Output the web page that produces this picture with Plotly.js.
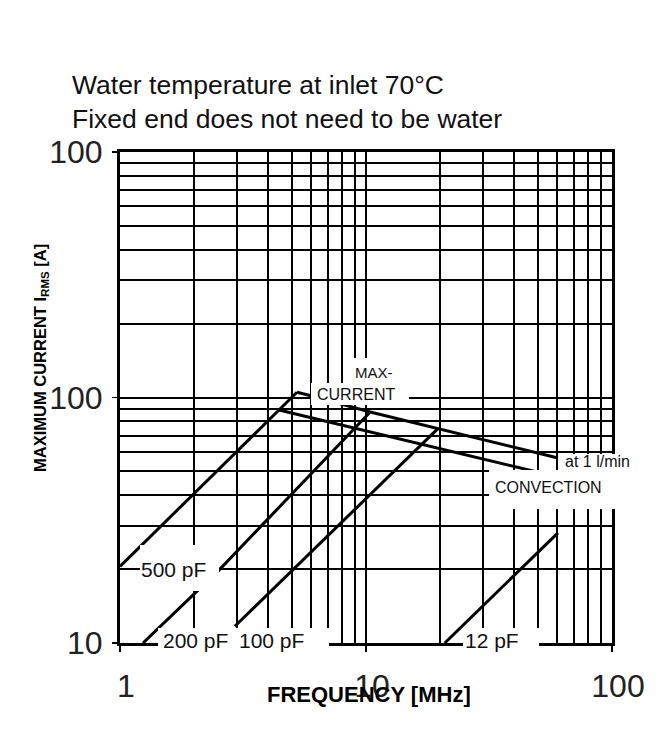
<!DOCTYPE html>
<html>
<head>
<meta charset="utf-8">
<script src="https://cdn.plot.ly/plotly-3.0.1.min.js"></script>
<style>
  html, body { margin: 0; padding: 0; background: #ffffff; }
  #chart { width: 661px; height: 729px; }
</style>
</head>
<body>
<div id="chart"></div>
<script>
// ---- Data (frequency in MHz, current in A) ----
const freq500 = [1.0, 5.24];
const curr500 = [20.5, 105];

const freq200 = [1.24, 2.55, 10.4];
const curr200 = [10.0, 20.0, 87.3];

const freq100 = [2.93, 19.6];
const curr100 = [11.7, 74.7];

const freq12 = [20.9, 60.3];
const curr12 = [10.0, 28.1];

// maximum current, water flow 1 l/min
const freqMax = [5.24, 6.03, 10.4, 60.3];
const currMax = [105, 101.4, 87.3, 56.7];

// maximum current, convection
const freqConv = [4.43, 49.6];
const currConv = [88.9, 49.7];

// axis ticks
const xTickVals = [1, 10, 100];
const xTickText = ['1', '10', '100'];
const yTickVals = [10, 100, 1000];
const yTickText = ['10', '100', '100'];
const xMinorVals = [2, 3, 4, 5, 6, 7, 8, 9, 20, 30, 40, 50, 60, 70, 80, 90];
const yMinorVals = [20, 30, 40, 50, 60, 70, 80, 90, 200, 300, 400, 500, 600, 700, 800, 900];

// ---- Styling / layout ----
const W = 661, H = 729;
const L = 120, R = 49, T = 152, B = 86;
const plotW = W - L - R, plotH = H - T - B;
const dX = px => (px - L) / plotW;          // pixel -> x domain fraction
const dY = py => (H - B - py) / plotH;      // pixel -> y domain fraction

const lineStyle = {color: '#000000', width: 3};
function curve(name, xs, ys) {
  return {type: 'scatter', mode: 'lines', name: name, x: xs, y: ys,
          line: lineStyle, hoverinfo: 'x+y+name', showlegend: false};
}
const traces = [
  curve('500 pF', freq500, curr500),
  curve('200 pF', freq200, curr200),
  curve('100 pF', freq100, curr100),
  curve('12 pF', freq12, curr12),
  curve('Max. current at 1 l/min', freqMax, currMax),
  curve('Max. current, convection', freqConv, currConv)
];

// white label backgrounds that interrupt the grid (pixel rectangles)
const blanks = [
  [348, 358, 398, 384],   // MAX-
  [311, 383, 409, 405],   // CURRENT
  [140, 545, 219, 591],   // 500 pF
  [158, 628, 329, 664],   // 200 pF 100 pF
  [463, 628, 539, 664],   // 12 pF
  [561, 454, 622, 470],   // at 1 l/min
  [489, 470, 622, 509]    // CONVECTION
];
const shapes = blanks.map(b => ({
  type: 'rect', xref: 'x domain', yref: 'y domain', layer: 'above',
  x0: dX(b[0]), x1: dX(b[2]), y0: dY(b[3]), y1: dY(b[1]),
  fillcolor: '#ffffff', line: {width: 0}
}));

const lbl = (text, xv, yv, size) => ({
  text: text, xref: 'x', yref: 'y', x: Math.log10(xv), y: Math.log10(yv),
  xanchor: 'left', yanchor: 'middle', showarrow: false,
  font: {family: 'Liberation Sans, Arial, sans-serif', size: size, color: '#111111'}
});

const annotations = [
  lbl('500 pF', 1.195, 20.0, 21),
  lbl('200 pF', 1.468, 10.25, 21),
  lbl('100 pF', 2.99, 10.25, 21),
  lbl('12 pF', 24.8, 10.25, 21),
  lbl('MAX-', 8.85, 127, 15),
  lbl('CURRENT', 6.2, 102.4, 16),
  lbl('at 1 l/min', 63.2, 55.1, 16),
  lbl('CONVECTION', 32.8, 42.8, 16),
  {
    text: 'MAXIMUM CURRENT I<sub>RMS</sub> [A]', xref: 'paper', yref: 'paper',
    x: dX(41), y: dY(358), xanchor: 'center', yanchor: 'middle', textangle: -90,
    showarrow: false,
    font: {family: 'Liberation Sans, Arial, sans-serif', size: 16.5, color: '#000000', weight: 'bold'}
  },
  {
    text: 'FREQUENCY [MHz]', xref: 'paper', yref: 'paper',
    x: dX(369), y: dY(694), xanchor: 'center', yanchor: 'middle', showarrow: false,
    font: {family: 'Liberation Sans, Arial, sans-serif', size: 22, color: '#000000', weight: 'bold'}
  }
];

const tickFont = {family: 'Liberation Sans, Arial, sans-serif', size: 32, color: '#222222'};

const layout = {
  width: W, height: H,
  margin: {l: L, r: R, t: T, b: B, pad: 0},
  paper_bgcolor: '#ffffff', plot_bgcolor: '#ffffff',
  showlegend: false,
  title: {
    text: 'Water temperature at inlet 70°C<br>Fixed end does not need to be water',
    xref: 'container', yref: 'container',
    x: 72 / W, xanchor: 'left',
    y: 1 - 94 / H, yanchor: 'top',
    font: {family: 'Liberation Sans, Arial, sans-serif', size: 26.5, color: '#111111'}
  },
  xaxis: {
    type: 'log', range: [0, 2],
    tickmode: 'array', tickvals: xTickVals, ticktext: xTickText,
    ticks: 'outside', ticklen: 6, tickwidth: 1.5, tickcolor: '#000000',
    tickfont: tickFont, ticklabelstandoff: 7, ticklabelshift: 6,
    showgrid: true, gridcolor: '#000000', gridwidth: 2,
    minor: {tickmode: 'array', tickvals: xMinorVals, showgrid: true, gridcolor: '#000000', gridwidth: 2, ticks: ''},
    showline: true, linecolor: '#000000', linewidth: 3, mirror: true,
    zeroline: false, fixedrange: true
  },
  yaxis: {
    type: 'log', range: [1, 3],
    tickmode: 'array', tickvals: yTickVals, ticktext: yTickText,
    ticks: 'outside', ticklen: 5, tickwidth: 1.5, tickcolor: '#000000',
    tickfont: tickFont, ticklabelstandoff: 3,
    showgrid: true, gridcolor: '#000000', gridwidth: 2,
    minor: {tickmode: 'array', tickvals: yMinorVals, showgrid: true, gridcolor: '#000000', gridwidth: 2, ticks: ''},
    showline: true, linecolor: '#000000', linewidth: 3, mirror: true,
    zeroline: false, fixedrange: true
  },
  shapes: shapes,
  annotations: annotations
};

Plotly.newPlot('chart', traces, layout, {displayModeBar: false, staticPlot: true});
</script>
</body>
</html>
